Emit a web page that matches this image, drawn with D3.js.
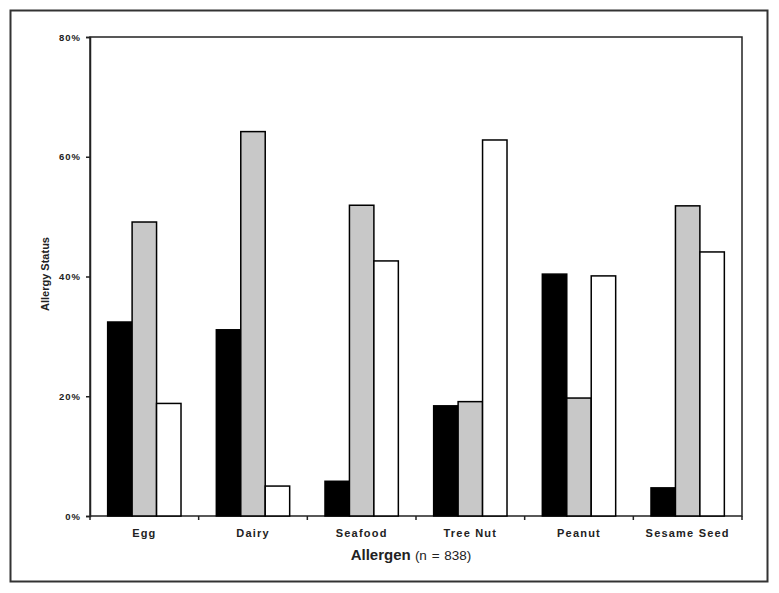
<!DOCTYPE html>
<html>
<head>
<meta charset="utf-8">
<script src="https://cdn.jsdelivr.net/npm/d3@7"></script>
<style>
  body { margin: 0; background: #fff; }
  svg text { font-family: "Liberation Sans", Arial, sans-serif; }
</style>
</head>
<body>
<svg id="chart" width="779" height="593"></svg>
<script>
// allergen categories and the three allergy status series (percent)
const categories = ["Egg", "Dairy", "Seafood", "Tree Nut", "Peanut", "Sesame Seed"]
const seriesKeys = ["a", "b", "c"]
const seriesA = [32.4, 31.1, 5.8, 18.4, 40.4, 4.7]
const seriesB = [49.1, 64.2, 51.9, 19.1, 19.7, 51.8]
const seriesC = [18.8, 5.0, 42.6, 62.8, 40.1, 44.1]
const yTicks = [0, 20, 40, 60, 80]

const fills = { a: "#000000", b: "#c8c8c8", c: "#ffffff" }

const data = categories.map((c, i) => ({
    cat: c,
    a: seriesA[i],
    b: seriesB[i],
    c: seriesC[i]
}))

const svg = d3.select("#chart")

const margin = { top: 37, left: 90, right: 37, bottom: 77 },
    width = 779 - margin.left - margin.right,
    height = 593 - margin.top - margin.bottom

// outer frame
svg.append("rect")
    .attr("x", 10.5).attr("y", 10.5)
    .attr("width", 757).attr("height", 571)
    .attr("fill", "none")
    .attr("stroke", "#333")
    .attr("stroke-width", 2)

const g = svg.append("g")
    .attr("transform", `translate(${margin.left},${margin.top})`)

const x = d3.scaleBand()
    .domain(categories)
    .range([0, width])
    .paddingInner(0.325)
    .paddingOuter(0.1625)

const band = d3.scaleBand()
    .domain(seriesKeys)
    .range([0, x.bandwidth()])

const y = d3.scaleLinear()
    .domain([0, 80])
    .range([height, 0])

// plot area box
g.append("rect")
    .attr("width", width).attr("height", height)
    .attr("fill", "none")
    .attr("stroke", "#222")
    .attr("stroke-width", 1.5)

// bars
const groups = g.selectAll(".grp")
    .data(data)
    .enter().append("g")
    .attr("class", "grp")
    .attr("transform", d => `translate(${x(d.cat)},0)`)

groups.selectAll("rect")
    .data(d => seriesKeys.map(k => ({ key: k, value: d[k] })))
    .enter().append("rect")
    .attr("x", d => band(d.key))
    .attr("y", d => y(d.value))
    .attr("width", band.bandwidth())
    .attr("height", d => height - y(d.value))
    .attr("fill", d => fills[d.key])
    .attr("stroke", "#000")
    .attr("stroke-width", 1.5)

// y axis
const yAxis = g.append("g")
    .call(d3.axisLeft(y).tickValues(yTicks).tickSize(4).tickPadding(5).tickFormat(d => d + "%"))
yAxis.select(".domain").attr("stroke", "#222").attr("stroke-width", 1.5)
yAxis.selectAll(".tick line").attr("stroke", "#222").attr("stroke-width", 1.5)
yAxis.selectAll("text")
    .attr("font-size", 9.5)
    .attr("font-weight", "bold")
    .attr("letter-spacing", 1)
    .attr("fill", "#222")
    .style("font-family", "'Liberation Sans', Arial, sans-serif")

// x axis: ticks at category boundaries
const step = width / categories.length
const xAxis = g.append("g").attr("transform", `translate(0,${height})`)
xAxis.selectAll("line")
    .data(d3.range(categories.length + 1))
    .enter().append("line")
    .attr("x1", i => i * step).attr("x2", i => i * step)
    .attr("y1", 0).attr("y2", 4)
    .attr("stroke", "#222").attr("stroke-width", 1.5)

xAxis.selectAll("text")
    .data(categories)
    .enter().append("text")
    .attr("x", d => x(d) + x.bandwidth() / 2)
    .attr("y", 21)
    .attr("text-anchor", "middle")
    .attr("font-size", 11)
    .attr("font-weight", "bold")
    .attr("letter-spacing", 1.2)
    .attr("fill", "#222")
    .text(d => d)

// axis titles
svg.append("text")
    .attr("transform", "translate(49,274) rotate(-90)")
    .attr("text-anchor", "middle")
    .attr("font-size", 11)
    .attr("font-weight", "bold")
    .attr("fill", "#222")
    .text("Allergy Status")

const xt = svg.append("text")
    .attr("x", 411)
    .attr("y", 560)
    .attr("text-anchor", "middle")
    .attr("fill", "#222")
xt.append("tspan").attr("font-size", 15).attr("font-weight", "bold").text("Allergen ")
xt.append("tspan").attr("font-size", 13.5).attr("word-spacing", 1).text("(n = 838)")
</script>
</body>
</html>
